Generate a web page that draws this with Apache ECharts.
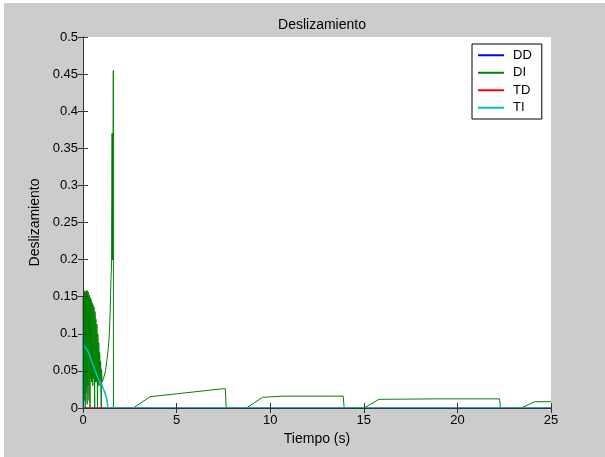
<!DOCTYPE html>
<html>
<head>
<meta charset="utf-8">
<script src="https://cdn.jsdelivr.net/npm/echarts@6/dist/echarts.min.js"></script>
<style>
  html, body { margin: 0; padding: 0; background: #ffffff; }
  #chart { position: absolute; left: 4px; top: 3px; width: 601px; height: 454px; background: #cccccc; }
</style>
</head>
<body>
<div id="chart"></div>
<script>
// series names
const seriesNames = ['DD', 'DI', 'TD', 'TI']

// DD / TD stay at zero the whole time (hidden below the axis / TI)
const ddData = [[0, 0], [25, 0]]
const tdData = [[0, 0], [25, 0]]

// DI: dense oscillation at start, spike near 1.6 s, then slow ramps
const diData = [
  [0, 0.15], [0.0125, 0.02], [0.025, 0.005], [0.0375, 0.152], [0.05, 0.157], [0.0625, 0.01],
  [0.075, 0.01], [0.0875, 0.155], [0.1, 0.158], [0.1125, 0.015], [0.125, 0.0], [0.1375, 0.156],
  [0.15, 0.155], [0.1625, 0.025], [0.175, 0.02], [0.1875, 0.158], [0.2, 0.16], [0.2125, 0.01],
  [0.225, 0.005], [0.2375, 0.158], [0.25, 0.157], [0.2625, 0.03], [0.275, 0.03], [0.2875, 0.156],
  [0.3, 0.155], [0.3125, 0.02], [0.325, 0.01], [0.3375, 0.152], [0.35, 0.15], [0.3625, 0.03],
  [0.375, 0.0], [0.3875, 0.149], [0.4, 0.148], [0.4125, 0.04], [0.425, 0.04], [0.4375, 0.146],
  [0.45, 0.145], [0.4625, 0.035], [0.475, 0.035], [0.4875, 0.142], [0.5, 0.14], [0.5125, 0.035],
  [0.525, 0.03], [0.5375, 0.139], [0.55, 0.138], [0.5625, 0.04], [0.575, 0.04], [0.5875, 0.136],
  [0.6, 0.135], [0.6125, 0.03], [0.625, 0.0], [0.6375, 0.13], [0.65, 0.125], [0.6625, 0.035],
  [0.675, 0.035], [0.6875, 0.12], [0.7, 0.118], [0.7125, 0.035], [0.725, 0.035], [0.7375, 0.113],
  [0.75, 0.11], [0.7625, 0.03], [0.775, 0.0], [0.7875, 0.1], [0.8, 0.095], [0.8125, 0.03],
  [0.825, 0.03], [0.8375, 0.088], [0.85, 0.082], [0.8625, 0.035], [0.875, 0.035], [0.8875, 0.075],
  [0.9, 0.07], [0.9125, 0.03], [0.925, 0.03], [0.9375, 0.063], [0.95, 0.058], [0.9625, 0.02],
  [0.975, 0.0], [0.9875, 0.052], [1.0, 0.048], [1.02, 0.035],
  [1.1, 0.04], [1.2, 0.05], [1.28, 0.065], [1.35, 0.08], [1.41, 0.1], [1.45, 0.13],
  [1.49, 0.17], [1.53, 0.2], [1.55, 0.2], [1.555, 0.37], [1.565, 0.2], [1.575, 0.37],
  [1.585, 0.2], [1.595, 0.37], [1.605, 0.2], [1.612, 0.37], [1.62, 0.455], [1.625, 0],
  [2.69, 0], [3.58, 0.0152], [7.49, 0.026], [7.6, 0.026], [7.65, 0],
  [8.73, 0], [9.59, 0.0144], [10.69, 0.016], [13.9, 0.016], [13.95, 0],
  [15.01, 0], [15.81, 0.0117], [19.05, 0.0123], [22.25, 0.0123], [22.3, 0],
  [23.41, 0], [24.12, 0.0085], [25, 0.0085]
]

// TI: decays from ~0.085 to zero by ~1.3 s
const tiData = [
  [0, 0], [0.01, 0.1], [0.03, 0.085], [0.16, 0.08], [0.3, 0.075], [0.5, 0.06],
  [0.7, 0.047], [0.85, 0.038], [1.01, 0.031], [1.15, 0.022], [1.28, 0.011], [1.33, 0], [25, 0]
]

const seriesColors = ['rgb(0,0,255)', 'rgb(0,128,0)', 'rgb(255,0,0)', 'rgb(0,191,191)']
const seriesData = [ddData, diData, tdData, tiData]

const font = 'Arial, "Liberation Sans", sans-serif'
const frameColor = '#333'

let chart = echarts.init(document.getElementById('chart'))

let option = {
  animation: false,
  backgroundColor: '#cccccc',
  title: {
    text: 'Deslizamiento',
    left: 313,
    top: 10,
    textAlign: 'center',
    textStyle: { fontFamily: font, fontSize: 14, fontWeight: 'normal', color: '#000' }
  },
  legend: {
    orient: 'vertical',
    left: 468,
    top: 41,
    backgroundColor: '#fff',
    borderColor: '#000',
    borderWidth: 1,
    padding: [4, 10, 4, 6],
    icon: 'rect',
    itemWidth: 26,
    itemHeight: 2,
    itemGap: 3,
    data: seriesNames,
    textStyle: { fontFamily: font, fontSize: 13, color: '#000', padding: [0, 0, 0, 4], lineHeight: 14.5 }
  },
  grid: {
    left: 79,
    top: 34,
    right: 54,
    bottom: 49,
    show: true,
    backgroundColor: '#fff',
    borderWidth: 0
  },
  xAxis: [{
    type: 'value',
    min: 0,
    max: 25,
    interval: 5,
    z: 10,
    name: 'Tiempo (s)',
    nameLocation: 'middle',
    nameGap: 23,
    nameTextStyle: { fontFamily: font, fontSize: 14, color: '#000' },
    axisLine: { show: true, onZero: false, lineStyle: { color: frameColor } },
    axisTick: { show: true, inside: true, length: 5, lineStyle: { color: frameColor } },
    axisLabel: { margin: 6, fontFamily: font, fontSize: 13, color: '#000' },
    splitLine: { show: false }
  }, {
    type: 'value',
    position: 'top',
    min: 0,
    max: 25,
    interval: 5,
    axisLine: { show: true, lineStyle: { color: frameColor } },
    axisTick: { show: true, inside: true, length: 5, lineStyle: { color: frameColor } },
    axisLabel: { show: false },
    splitLine: { show: false }
  }],
  yAxis: [{
    type: 'value',
    min: 0,
    max: 0.5,
    interval: 0.05,
    z: 10,
    name: 'Deslizamiento',
    nameLocation: 'middle',
    nameGap: 40,
    nameTextStyle: { fontFamily: font, fontSize: 14, color: '#000' },
    axisLine: { show: true, onZero: false, lineStyle: { color: frameColor } },
    axisTick: { show: true, inside: true, length: 5, lineStyle: { color: frameColor } },
    axisLabel: {
      margin: 5,
      fontFamily: font,
      fontSize: 13,
      color: '#000',
      formatter: function (v) { return String(Math.round(v * 100) / 100) }
    },
    splitLine: { show: false }
  }, {
    type: 'value',
    position: 'right',
    min: 0,
    max: 0.5,
    interval: 0.05,
    axisLine: { show: true, lineStyle: { color: frameColor } },
    axisTick: { show: true, inside: true, length: 5, lineStyle: { color: frameColor } },
    axisLabel: { show: false },
    splitLine: { show: false }
  }],
  series: seriesNames.map(function (name, i) {
    return {
      name: name,
      type: 'line',
      xAxisIndex: 0,
      yAxisIndex: 0,
      data: seriesData[i],
      symbol: 'none',
      color: seriesColors[i],
      lineStyle: { width: i === 3 ? 1.5 : 1, color: seriesColors[i] },
      z: 2 + i
    }
  })
}
chart.setOption(option)
</script>
</body>
</html>
